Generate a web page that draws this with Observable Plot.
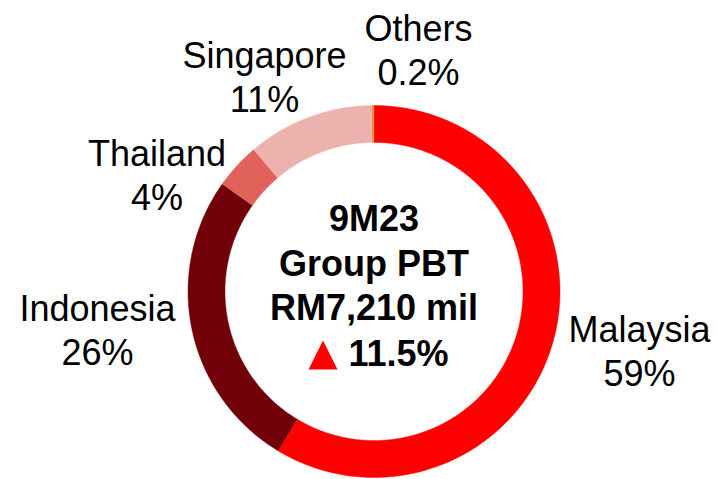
<!DOCTYPE html>
<html>
<head>
<meta charset="utf-8">
<script src="https://cdn.jsdelivr.net/npm/d3@7"></script>
<script src="https://cdn.jsdelivr.net/npm/@observablehq/plot@0.6"></script>
<style>
  html, body { margin: 0; padding: 0; background: #fff; }
  #chart svg { display: block; }
</style>
</head>
<body>
<div id="chart"></div>
<script>
// ---- data ----
const regions = ["Malaysia", "Indonesia", "Thailand", "Singapore", "Others"];
const shares = [58.6, 26.2, 4.0, 11.0, 0.2];          // % of Group PBT
const shareLabels = ["59%", "26%", "4%", "11%", "0.2%"];
const centerLines = ["9M23", "Group PBT", "RM7,210 mil"];
const growthLabel = "11.5%";

// ---- styles / layout ----
const palette = ["#ff0000", "#720009", "#e0625b", "#edb2ad", "#e8963c"];
const outerR = 186, innerR = 149;
// label anchor offsets from the ring centre (px, y up)
const labelPos = [[265.5, -58], [-276.5, -37], [-217, 118], [-109.5, 216], [44.5, 242.5]];

// build ring polygons from the shares
const total = d3.sum(shares);
const ring = [];
let acc = 0;
shares.forEach((v, i) => {
  const a0 = acc / total * 2 * Math.PI;
  acc += v;
  const a1 = acc / total * 2 * Math.PI;
  const n = Math.max(2, Math.ceil((a1 - a0) / (Math.PI / 180)));
  const pts = [];
  for (let k = 0; k <= n; k++) {
    const a = a0 + (a1 - a0) * k / n;
    pts.push({x: outerR * Math.sin(a), y: outerR * Math.cos(a)});
  }
  for (let k = n; k >= 0; k--) {
    const a = a0 + (a1 - a0) * k / n;
    pts.push({x: innerR * Math.sin(a), y: innerR * Math.cos(a)});
  }
  pts.forEach(p => ring.push({...p, region: regions[i], color: palette[i]}));
});

const labels = regions.map((r, i) => ({
  text: r + "\n" + shareLabels[i], x: labelPos[i][0], y: labelPos[i][1]
}));

const triangleSymbol = {
  draw(context, size) {
    const s = Math.sqrt(size);
    context.moveTo(0, -s / 2);
    context.lineTo(s / 2, s / 2);
    context.lineTo(-s / 2, s / 2);
    context.closePath();
  }
};

const chart = Plot.plot({
  width: 718,
  height: 479,
  margin: 0,
  style: {fontFamily: "'Liberation Sans', Arial, sans-serif", background: "#fff"},
  x: {domain: [-373.5, 344.5], axis: null},
  y: {domain: [-188, 291], axis: null},
  color: {type: "identity"},
  marks: [
    Plot.line(ring, {x: "x", y: "y", z: "region", fill: "color", stroke: "color", strokeWidth: 0.4, curve: "linear"}),
    Plot.text(labels, {x: "x", y: "y", text: "text", fontSize: 36, lineHeight: 1.22, fill: "#000"}),
    Plot.text([centerLines.join("\n")], {x: () => 0, y: () => 30, text: d => d, fontSize: 36, fontWeight: "bold", lineHeight: 1.236, fill: "#000"}),
    Plot.text([growthLabel], {x: () => -25.5, y: () => -62.5, text: d => d, fontSize: 36, fontWeight: "bold", textAnchor: "start", fill: "#000"}),
    Plot.dot([growthLabel], {x: () => -51, y: () => -63.5, symbol: triangleSymbol, r: 16.36, fill: "#ff0000", stroke: "none"})
  ]
});
document.getElementById("chart").appendChild(chart);
</script>
</body>
</html>
